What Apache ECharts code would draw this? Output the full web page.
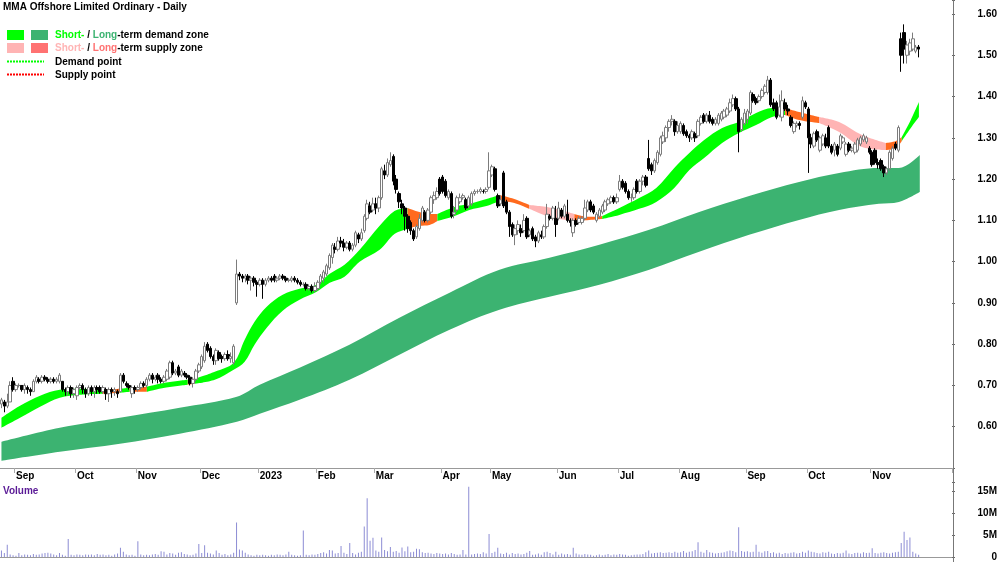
<!DOCTYPE html>
<html>
<head>
<meta charset="utf-8">
<title>MMA Offshore Limited Ordinary - Daily</title>
<script src="https://cdn.jsdelivr.net/npm/echarts@6/dist/echarts.min.js"></script>
<style>
  html, body { margin: 0; padding: 0; background: #fff; }
  #chart { width: 1000px; height: 562px; }
</style>
</head>
<body>
<div id="chart"></div>
<script>
// ---- data ----
var firstTradingDay = '2022-08-25';
var asxHolidays = ['2022-09-22', '2022-12-26', '2022-12-27', '2023-01-02', '2023-01-26',
                   '2023-04-07', '2023-04-10', '2023-04-25', '2023-06-12'];
var axisSlots = 328; // trading days + empty room on the right
var monthNames = ['Jan', 'Feb', 'Mar', 'Apr', 'May', 'Jun', 'Jul', 'Aug', 'Sep', 'Oct', 'Nov', 'Dec'];

// cents: open, close, low, high
var candles = [
  [65.5,66.5,64.5,67],[66,65,63.5,66.5],[65,66,64.5,68],[66,70,66,71],[71,69,68.5,72],
  [69,70,68.5,70.5],[70,70,69.5,70.5],[70,69,68.5,70],[69,70,68,70.5],[69.5,69,68,70],
  [69,68.5,67.5,69.5],[68.5,71,68.5,71.5],[71,72,70.5,72.5],[71.5,71,70.5,72],[71,72,70.5,72.5],
  [72,71.5,71,72.5],[71.5,71,70.5,72],[71,71.5,70.5,72],[71.5,71,70.5,72],[71,71.5,70.5,72],
  [71,72.5,70.5,73],[71,69,68.5,71],[69,68.5,67.5,69.5],[68.5,69.5,67.5,70],[69.5,68,67,70],
  [68,69,67,69.5],[67.5,69.5,66.5,70],[69.5,70,69,70.5],[70,69,68,70.5],[69,68,67,69.5],
  [68,69.5,67.5,70],[69.5,68.5,67.5,70],[68.5,69.5,67,70],[69.5,69,68,70],[69.5,68.5,68,70],
  [68.5,69.5,68,70],[69,68,66.5,69.5],[68,69,66,69.5],[69,68.5,67,69.5],[68.5,69,67.5,69.5],
  [68.5,68,67,69],[68.5,72.5,68.5,73],[72.5,71,70.5,73],[70.5,70,69.5,71],[70,69.5,69,70.5],
  [68,69.5,67,70],[69.5,69,68,70],[69,69.5,68.5,70],[69.5,70.5,69,71],[70.5,70,69.5,71],
  [70,71.5,69.5,72],[71.5,72.5,71,73],[72.5,71.5,70.5,73],[71.5,72,71,72.5],[72.5,71.5,70.5,73],
  [71.5,71,70.5,72],[71,72,70.5,72.5],[71.5,73.5,71,74],[72,75.5,71.5,76],[75.5,73,72.5,76],
  [73,73.5,72.5,74],[74.5,72.5,72,75],[72.5,73.5,72,74],[73,72.5,72,73.5],[72.5,72,71.5,73],
  [72,70.5,70,72.5],[70.5,71.5,69.5,72],[71.5,73.5,71,74],[73.5,75,73,75.5],[74.5,77,74,77.5],
  [76,79.5,75.5,80.5],[80,78.5,78,80.5],[79,77,76.5,79.5],[77,76,75,77.5],[76,78.5,75,79],
  [78,76.5,76,78.5],[77,76.5,75.5,77.5],[76.5,77.5,76,78],[77.5,76.5,76,78.5],[76.5,77,75.5,78],
  [75.5,79.5,75,80],[90,97,89.5,100.5],[97,96.5,95.5,97.5],[96.5,96,95,97],[96,96.5,95,97],
  [96.5,95.5,94.5,97],[95.5,96,93,96.5],[96,95,94,96.5],[95,94.5,91.5,95.5],[94.5,95.5,94,96],
  [95.5,94.5,91,96],[94.5,95.5,94,96],[95.5,96,95,96.5],[96,95.5,95,96.5],[96.5,95.5,95,97],
  [95.5,96,95,96.5],[96,96.5,95.5,97],[96.5,96,95.5,97],[96,95.5,95,96.5],[95.5,95.5,95,96],
  [95.5,96,95,96.5],[96,95.5,95,96.5],[95.5,95,94.5,96],[95,94.5,94,95.5],[94.5,94.5,94,95],
  [94.5,93.5,93,95],[93.5,94,93,94.5],[94,93,92.5,94.5],[93,94,92.5,95],[93.5,95,93,95.5],
  [95,96.5,94.5,97],[96,97.5,95,98],[97,99,96.5,99.5],[98.5,101.5,98,102],[101,104,99.5,104.5],
  [103.5,103,102,104.5],[103,105,102.5,106],[105,104.5,103.5,106],[104.5,103.5,102.5,105.5],[103.5,104.5,103,105],
  [104.5,103,102.5,105],[103,104,102.5,104.5],[104,107,103.5,107.5],[106.5,105.5,104.5,107],[105.5,107,105,108],
  [107.5,111,107,111.5],[110.5,114,110,115],[113.5,112,111.5,114.5],[112.5,114,112,115.5],[114,113,111.5,115.5],
  [113,115.5,112,116],[115.5,122.5,115,123],[122,121,120,123.5],[121,124,120.5,125],[123.5,124.5,123,126.5],
  [125.5,119.5,118.5,126],[120,117.5,116.5,121],[116.5,114.5,113,117],[114,113,111.5,115],[113,111,107.5,113.5],
  [111,108,107,111.5],[109.5,107.5,106.5,110],[107.5,105.5,105,108],[106,108.5,105.5,109],[108,110.5,107.5,111.5],
  [110,113,109.5,113.5],[112,110,109.5,112.5],[110,112.5,109.5,113],[112,115.5,111.5,116],[115,116,114,117],
  [115.5,117,115,118],[120,116.5,116,120.5],[120.5,117,116.5,121],[119.5,116,115.5,120],[115.5,117,115,117.5],
  [116.5,111,110.5,117],[111.5,112,110.5,113.5],[112.5,115.5,112,116],[114.5,115.5,114,116.5],[115.5,116,115,116.5],
  [115,113,112.5,115.5],[113.5,115.5,113,116],[114,116.5,113.5,117],[116.5,117,116,117.5],[117,117,116.5,117.5],
  [117,117.5,116.5,118],[117,117,116.5,117.5],[117,117.5,116.5,118],[118,122,117.5,126.5],[121,123,120.5,123.5],
  [122.5,117.5,117,123],[116,113.5,113,116.5],[114,115,113.5,116],[121.5,113.5,113,122],[114.5,112,111.5,115],
  [112,108.5,106,112.5],[109,106.5,106,109.5],[106.5,108,104,109],[107.5,109,106.5,110],[108,107,106,109],
  [107.5,110,107,111.5],[110.5,106,105.5,111],[106.5,107.5,106,108],[108,105.5,105,108.5],[106,105,103.5,106.5],
  [105,107,104.5,107.5],[106.5,106,105.5,107.5],[106,108.5,105.5,109],[108.5,111.5,108,114],[111,110.5,110,111.5],
  [110.5,113,110,113.5],[110.5,109,106,113.5],[110.5,113,110,114.5],[112.5,111,110.5,113],[111,113.5,110.5,114],
  [111.5,110,109.5,115],[110,109.5,108.5,110.5],[107,110,106,110.5],[110,109,108.5,110.5],[109.5,110.5,109,111],
  [109.5,110.5,109,111],[110.5,113,110,115],[112.5,114.5,112,115],[114.5,112.5,112,115],[113.5,112,111.5,114],
  [110,111.5,109.5,112],[111,112.5,110.5,113],[112,113.5,111.5,114],[112.5,114.5,112,115],[114,115,113.5,115.5],
  [114.5,115.5,114,116],[115.5,114.5,114,116],[114.5,115.5,114,116.5],[117.5,119.5,117,121],[119.5,118,117.5,120],
  [119,117,116.5,119.5],[117,115.5,115,117.5],[115.5,115.5,114.5,116.5],[115.5,117.5,115,118],[119.5,117,116.5,120],
  [117,119.5,116.5,120],[119.5,120.5,118.5,121],[120.5,118.5,118,121],[125,122.5,122,129.5],[123.5,122,121,124],
  [122,124.5,121.5,125],[124,126.5,123.5,127],[126,130,125.5,130.5],[129,130.5,128.5,131.5],[130,132.5,129,133],
  [132.5,134,131.5,134.5],[134,134.5,133,135.5],[134,131.5,130.5,134.5],[131.5,133,131,134],[131.5,133.5,131,134],
  [133,131,130.5,133.5],[131.5,130.5,130,132],[130.5,130,129,131],[130,131.5,129.5,132],[131,130,129,131.5],
  [130.5,134,130,134.5],[133.5,135,133,135.5],[135.5,134,133.5,136],[134,135.5,133.5,136],[135.5,134,133.5,136.5],
  [134.5,133.5,133,135],[133.5,134.5,133,135],[133.5,135.5,133,136],[134.5,136,134,136.5],[135,136.5,134.5,137],
  [135.5,137,135,137.5],[136.5,138.5,136,139.5],[138,139.5,137.5,140.5],[139.5,137,136.5,140],[137,131.5,126.5,137.5],
  [132,134.5,131.5,135],[133.5,136,133,137],[134.5,136.5,133.5,137],[136,141,135.5,141.5],[140.5,139,138.5,141],
  [139.5,138.5,138,140],[139,140,138.5,140.5],[140,141.5,139.5,142],[141,142.5,140.5,143],[141,144,140.5,145],
  [144,138,137.5,144.5],[138.5,137,136.5,139.5],[138.5,135,134.5,139],[135.5,137.5,135,140.5],[135,139,134,141.5],
  [138.5,137,136.5,139.5],[137,136.5,135.5,138],[135,133,132.5,135.5],[131.5,133.5,131,134],[133,133.5,132.5,134],
  [133.5,133,132,134],[135,139,134.5,140],[138.5,137.5,137,139],[137,130,121.5,137.5],[130,128.5,127.5,131],
  [128,131,127.5,131.5],[131.5,129.5,129,132],[127,130,126.5,130.5],[128.5,130.5,128,131],[130,128,127.5,131],
  [132.5,128,127.5,133],[128,126.5,126,128.5],[127,128.5,125.5,129],[128,126,125.5,128.5],[127.5,130.5,127,131],
  [129,130,128.5,130.5],[126,128.5,125.5,129],[128.5,127,126.5,129],[127,127.5,126.5,128],[126.5,128.5,126,129],
  [127,129.5,126.5,130],[128.5,130,128,130.5],[129.5,130.5,129,131],[129,130,128.5,130.5],[127.5,126.5,126,128],
  [126.5,123.5,123,127],[127,124,123.5,127.5],[124,123.5,122.5,125],[124.5,122.5,122,125],[123,121.5,120.5,123.5],
  [121.5,122.5,121,123],[122.5,126.5,122,127],[125,127.5,124.5,128],[128.5,127.5,127,129],[127,132.5,126.5,133],
  [154,150,146,155.5],[155.5,151.5,148,157.5],[150,152.5,148,153.5],[151,153,150,154],[151.5,154,151,155.5],
  [151,152,150.5,152.5],[152,151.5,149.5,152.5]
];

// millions of shares
var volumeM = [
  1.5,0.9,2.8,0.6,0.4,0.3,0.9,0.4,0.6,0.5, 0.4,0.7,0.5,0.6,0.8,0.9,1.0,0.8,0.6,0.4,
  0.9,0.5,0.3,4.1,0.5,0.4,0.6,0.5,0.4,0.6, 0.5,0.6,0.4,0.7,0.5,0.6,0.4,0.5,0.3,0.6,
  0.8,2.1,1.2,0.6,0.4,0.5,0.3,3.6,0.6,0.4, 0.5,0.4,0.6,0.7,0.5,1.3,1.2,0.6,0.9,0.8,
  0.5,1.0,1.1,0.7,0.6,0.4,0.5,0.8,3.0,0.9, 2.7,1.0,0.8,0.6,1.5,0.9,0.5,0.7,0.4,0.6,
  1.0,7.9,1.7,1.5,1.0,0.6,0.4,0.3,0.5,0.4, 0.5,0.4,0.3,0.5,0.4,0.6,0.5,0.4,0.6,1.2,
  0.5,0.4,0.3,0.4,6.1,0.5,0.4,0.6,0.5,0.7, 0.9,1.1,0.8,1.6,1.5,0.8,0.9,2.5,1.0,0.7,
  3.2,0.9,0.6,1.0,1.2,7.0,13.5,3.7,4.4,1.5, 1.2,4.5,1.6,1.3,2.3,1.2,1.4,1.0,2.2,1.3,
  2.4,1.1,1.2,1.9,1.8,1.1,0.9,1.0,0.8,0.7, 0.9,0.8,0.7,0.8,0.6,0.9,0.7,0.5,0.6,1.6,
  0.6,16.1,0.6,0.7,0.8,0.7,1.1,0.8,5.3,0.9, 1.2,2.1,0.8,0.7,1.0,0.6,0.9,0.7,0.8,0.6,
  0.7,1.0,1.4,0.5,0.6,0.8,0.5,1.1,1.2,0.9, 0.6,1.2,0.5,0.8,0.6,0.7,0.5,2.1,0.8,0.6,
  0.5,0.7,0.6,0.5,0.3,0.4,0.6,0.4,0.5,0.7, 0.4,0.6,0.5,0.7,0.6,0.5,0.3,0.4,0.5,0.6,
  0.6,0.7,1.1,1.5,0.8,0.9,1.0,1.1,0.9,1.0, 1.1,0.9,1.2,1.0,1.1,1.4,1.0,1.2,1.3,1.6,
  3.4,1.2,1.0,1.6,1.1,1.0,0.8,0.9,1.0,1.1, 1.3,1.5,1.4,1.1,6.8,1.4,1.2,1.3,1.1,1.2,
  2.8,1.2,1.0,1.3,1.4,0.9,1.1,0.8,1.0,0.7, 0.9,0.8,1.0,1.1,0.8,0.9,1.2,1.0,1.5,1.2,
  1.1,0.9,0.8,1.1,1.0,1.2,0.8,0.7,0.9,0.8, 1.0,1.5,0.8,0.7,0.9,1.0,0.8,1.1,0.9,1.0,
  2.0,0.9,0.8,1.0,1.1,0.9,0.8,1.0,1.1,1.2, 3.2,5.8,3.9,4.5,1.2,0.8,0.5
];

// short-term zone edges: [day index, lower, upper]
var shortZoneEdges = [
  [0,0.5976,0.6218],[6.4,0.6218,0.6509],[13.3,0.6484,0.6751],[20.1,0.6702,0.6896],[27.0,0.6775,0.6920],
  [35.0,0.6800,0.6896],[40.8,0.6823,0.6920],[44.2,0.6848,0.6945],[50.1,0.6848,0.6969],[56.3,0.6945,0.7065],
  [64.2,0.7017,0.7138],[66.6,0.7041,0.7162],[73.5,0.7138,0.7332],[80.0,0.7380,0.7550],[83.8,0.7574,0.8107],
  [87.2,0.7986,0.8542],[91.4,0.8397,0.8906],[96.9,0.8809,0.9196],[102.7,0.9075,0.9341],[108.6,0.9269,0.9438],
  [113.1,0.9487,0.9705],[118.2,0.9632,0.9923],[123.4,0.9995,1.0286],[130.3,1.0286,1.0867],[135.4,1.0673,1.1230],
  [139.9,1.0794,1.1303],[144.0,1.0867,1.1206],[147.5,1.0891,1.1157],[150.2,1.0988,1.1157],[156.1,1.1109,1.1327],
  [161.2,1.1254,1.1400],[167.1,1.1351,1.1521],[171.6,1.1472,1.1618],[176.7,1.1424,1.1521],[181.9,1.1279,1.1375],
  [189.8,1.1061,1.1303],[197.4,1.0988,1.1157],[202.5,1.1012,1.1085],[207.0,1.1036,1.1109],[212.9,1.1133,1.1303],
  [219.7,1.1279,1.1545],[225.6,1.1448,1.1787],[231.8,1.1787,1.2271],[237.0,1.2223,1.2634],[242.1,1.2513,1.2949],
  [248.3,1.2877,1.3240],[254.1,1.3119,1.3385],[260.0,1.3312,1.3603],[265.5,1.3506,1.3724],[270.0,1.3555,1.3724],
  [274.8,1.3433,1.3627],[281.7,1.3361,1.3506],[288.6,1.3143,1.3385],[296.5,1.2780,1.3070],[304.7,1.2707,1.2877],
  [308.2,1.2756,1.2925],[310.2,1.2925,1.3022],[313.3,1.3240,1.3433],[316.1,1.3506,1.3869]
];
// state of the short-term zone: [from day, to day, state]
var shortZoneStates = [
  [0,35.0,'demand'],[35.0,40.8,'turn'],[40.8,44.2,'demand'],[44.2,50.1,'turn'],[50.1,64.2,'demand'],
  [64.2,66.6,'turn'],[66.6,139.9,'demand'],[139.9,150.2,'turn'],[150.2,171.6,'demand'],[171.6,181.9,'turn'],
  [181.9,197.4,'supply'],[197.4,207.0,'turn'],[207.0,270.0,'demand'],[270.0,281.7,'turn'],[281.7,304.7,'supply'],
  [304.7,310.2,'turn'],[310.2,316.1,'demand']
];
// long-term zone edges: [day index, lower, upper]
var longZoneEdges = [
  [0,0.5177,0.5637],[20.1,0.5395,0.5976],[40.8,0.5588,0.6218],[61.4,0.5830,0.6460],[81.1,0.6121,0.6727],
  [89.0,0.6315,0.7017],[102.7,0.6654,0.7428],[119.9,0.7138,0.7985],[137.1,0.7743,0.8639],[154.4,0.8349,0.9244],
  [171.6,0.8833,0.9801],[188.8,0.9147,1.0092],[206.0,0.9438,1.0407],[223.2,0.9801,1.0770],[240.4,1.0237,1.1206],
  [257.6,1.0649,1.1593],[274.8,1.1012,1.1932],[288.6,1.1254,1.2150],[302.3,1.1400,1.2271],[309.2,1.1448,1.2271],
  [316.4,1.1690,1.2586]
];

// ---- build ----
function tradingDates(n) {
  var out = [];
  var d = new Date(firstTradingDay + 'T00:00:00Z');
  while (out.length < n) {
    var iso = d.toISOString().slice(0, 10);
    var wd = d.getUTCDay();
    if (wd !== 0 && wd !== 6 && asxHolidays.indexOf(iso) < 0) out.push(iso);
    d.setUTCDate(d.getUTCDate() + 1);
  }
  return out;
}

var categories = tradingDates(candles.length);
for (var p = candles.length; p < axisSlots; p++) categories.push('pad' + p);

var monthStart = categories.map(function (d, i) {
  return i > 0 && i < candles.length && d.slice(5, 7) !== categories[i - 1].slice(5, 7);
});

var zoneColors = { demand: '#00ff00', supply: '#ffb4b4', turn: '#ff6a1e', long: '#3cb371' };

// the zone layer uses a hidden time axis whose "milliseconds" are day slots x 1000,
// so that stacking happens on the price dimension
var SLOT = 1000;

function bandSeries(edges, color, stackName) {
  var base = {
    type: 'line', xAxisIndex: 1, yAxisIndex: 0, stack: stackName,
    smooth: 0.35, symbol: 'none', silent: true,
    lineStyle: { width: 0, opacity: 0 }, z: 1
  };
  var lower = Object.assign({}, base, {
    data: edges.map(function (e) { return [e[0] * SLOT, e[1]]; })
  });
  var width = Object.assign({}, base, {
    data: edges.map(function (e) { return [e[0] * SLOT, e[2] - e[1]]; }),
    areaStyle: { color: color, opacity: 1 }
  });
  return [lower, width];
}

var series = [];
series = series.concat(bandSeries(longZoneEdges, zoneColors.long, 'long'));
shortZoneStates.forEach(function (z, k) {
  var part = shortZoneEdges.filter(function (e) { return e[0] >= z[0] - 1e-6 && e[0] <= z[1] + 1e-6; });
  series = series.concat(bandSeries(part, zoneColors[z[2]], 'short' + k));
});

series.push({
  name: 'Price',
  type: 'candlestick',
  xAxisIndex: 0,
  yAxisIndex: 0,
  barWidth: 3,
  z: 5,
  data: candles.map(function (c) { return [c[0] / 100, c[1] / 100, c[2] / 100, c[3] / 100]; }),
  itemStyle: {
    color: '#ffffff',
    color0: '#000000',
    borderColor: '#7c7c7c',
    borderColor0: '#000000',
    borderWidth: 1
  }
});

series.push({
  name: 'Volume',
  type: 'bar',
  xAxisIndex: 2,
  yAxisIndex: 1,
  barWidth: 1,
  data: volumeM.map(function (v) { return v * 1e6; }),
  itemStyle: { color: '#8c8cd4' }
});

var labelFont = { color: '#000', fontWeight: 'bold', fontSize: 10, fontFamily: 'Liberation Sans, Arial, sans-serif' };
var FONT = 'bold 10px "Liberation Sans", Arial, sans-serif';

var dom = document.getElementById('chart');
var chart = echarts.init(dom, null, { renderer: 'canvas' });

chart.setOption({
  animation: false,
  backgroundColor: '#ffffff',
  grid: [
    { left: 0, top: 0, width: 953, height: 468 },
    { left: 0, top: 482, width: 953, height: 77.5 }
  ],
  xAxis: [
    {
      type: 'category', gridIndex: 0, data: categories, boundaryGap: true,
      axisLine: { show: true, lineStyle: { color: '#999', width: 1 } },
      axisTick: { show: true, length: 5, interval: function (i) { return monthStart[i]; }, lineStyle: { color: '#aaa' } },
      axisLabel: Object.assign({
        interval: function (i) { return monthStart[i]; },
        align: 'left', margin: 3,
        formatter: function (v) {
          var m = parseInt(v.slice(5, 7), 10);
          return m === 1 ? v.slice(0, 4) : monthNames[m - 1];
        }
      }, labelFont),
      splitLine: { show: false }
    },
    { type: 'time', gridIndex: 0, min: -0.5 * SLOT, max: (axisSlots - 0.5) * SLOT, show: false },
    {
      type: 'category', gridIndex: 1, data: categories, boundaryGap: true, position: 'top',
      axisLine: { show: true, lineStyle: { color: '#999', width: 1 } },
      axisTick: { show: false }, axisLabel: { show: false }, splitLine: { show: false }
    }
  ],
  yAxis: [
    {
      type: 'value', gridIndex: 0, position: 'right', min: 0.5, max: 1.634, interval: 0.1,
      axisLine: { show: false },
      axisTick: { show: true, length: 3, lineStyle: { color: '#666' } },
      splitLine: { show: false },
      axisLabel: Object.assign({
        align: 'right', margin: 45,
        formatter: function (v) {
          return (v > 0.55 && Math.abs(v * 10 - Math.round(v * 10)) < 1e-6) ? v.toFixed(2) : '';
        }
      }, labelFont)
    },
    {
      type: 'value', gridIndex: 1, position: 'right', min: 0, max: 17.2e6, interval: 5e6,
      axisLine: { show: false },
      axisTick: { show: true, length: 3, lineStyle: { color: '#666' } },
      splitLine: { show: false },
      axisLabel: Object.assign({
        align: 'right', margin: 45,
        formatter: function (v) {
          if (v === 0) return '0';
          return (v % 5e6 === 0) ? (v / 1e6) + 'M' : '';
        }
      }, labelFont)
    }
  ],
  graphic: [
    { type: 'line', shape: { x1: 953.5, y1: 0, x2: 953.5, y2: 562 }, style: { stroke: '#777', lineWidth: 1 }, z: 10 },
    { type: 'text', x: 3, y: 7, style: { text: 'MMA Offshore Limited Ordinary - Daily', fill: '#000', font: FONT, verticalAlign: 'middle' }, z: 10 },
    { type: 'rect', shape: { x: 7, y: 30, width: 17, height: 10 }, style: { fill: zoneColors.demand }, z: 10 },
    { type: 'rect', shape: { x: 31, y: 30, width: 17, height: 10 }, style: { fill: zoneColors.long }, z: 10 },
    { type: 'rect', shape: { x: 7, y: 43, width: 17, height: 10 }, style: { fill: '#ffb4b4' }, z: 10 },
    { type: 'rect', shape: { x: 31, y: 43, width: 17, height: 10 }, style: { fill: '#ff7272' }, z: 10 },
    { type: 'line', shape: { x1: 7, y1: 61.5, x2: 44, y2: 61.5 }, style: { stroke: '#00ff00', lineWidth: 2, lineDash: [2, 1] }, z: 10 },
    { type: 'line', shape: { x1: 7, y1: 74.5, x2: 44, y2: 74.5 }, style: { stroke: '#ff0000', lineWidth: 2, lineDash: [2, 1] }, z: 10 },
    {
      type: 'text', x: 55, y: 35, z: 10,
      style: {
        text: '{g|Short-}{k| / }{d|Long}{k|-term demand zone}', verticalAlign: 'middle', font: FONT,
        rich: {
          g: { fill: '#00ff00', font: FONT },
          d: { fill: '#3cb371', font: FONT },
          k: { fill: '#000', font: FONT }
        }
      }
    },
    {
      type: 'text', x: 55, y: 48.5, z: 10,
      style: {
        text: '{p|Short-}{k| / }{r|Long}{k|-term supply zone}', verticalAlign: 'middle', font: FONT,
        rich: {
          p: { fill: '#ffb4b4', font: FONT },
          r: { fill: '#ff7272', font: FONT },
          k: { fill: '#000', font: FONT }
        }
      }
    },
    { type: 'text', x: 55, y: 62, style: { text: 'Demand point', fill: '#000', font: FONT, verticalAlign: 'middle' }, z: 10 },
    { type: 'text', x: 55, y: 75, style: { text: 'Supply point', fill: '#000', font: FONT, verticalAlign: 'middle' }, z: 10 },
    { type: 'text', x: 3, y: 491.5, style: { text: 'Volume', fill: '#5a1a96', font: FONT, verticalAlign: 'middle' }, z: 10 }
  ],
  series: series
});

window.addEventListener('resize', chart.resize);
</script>
</body>
</html>
